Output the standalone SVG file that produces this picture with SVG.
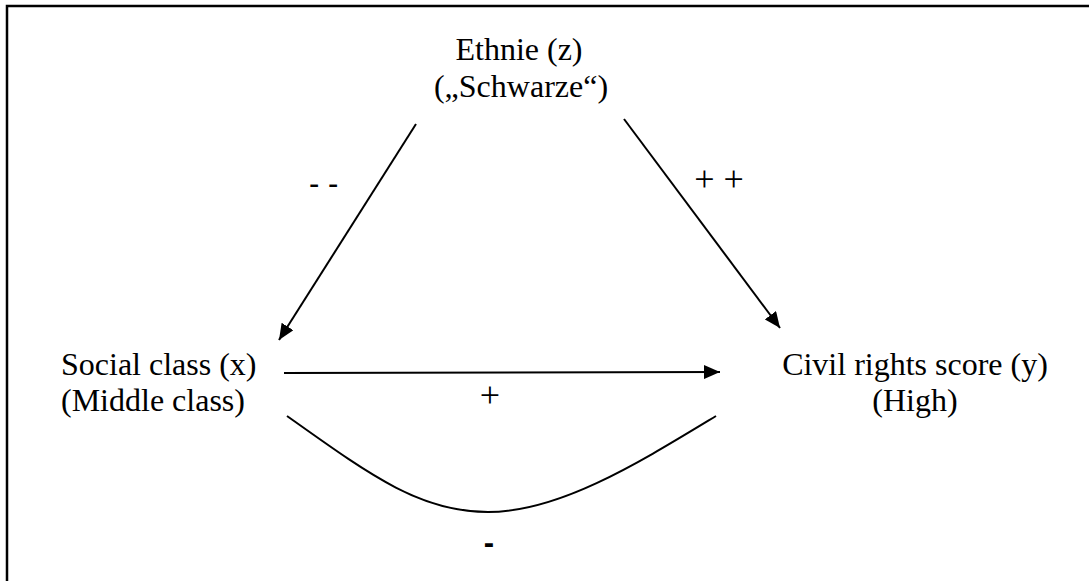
<svg xmlns="http://www.w3.org/2000/svg" width="1089" height="581" viewBox="0 0 1089 581">
<style>
.t{font-family:"Liberation Serif","Times New Roman",serif;font-size:32px;fill:#000}
.p{font-family:"Liberation Serif","Times New Roman",serif;font-size:36px;fill:#000}
.s{font-family:"Liberation Sans",Arial,sans-serif;font-size:31px;fill:#000}
.c{stroke:#000;stroke-width:2;fill:none}
</style>
<defs>
<marker id="a" viewBox="0 0 16 14" refX="16" refY="7" markerWidth="16" markerHeight="14" orient="auto" markerUnits="userSpaceOnUse">
<path d="M0,0 L16,7 L0,14 Z" fill="#000"/>
</marker>
</defs>
<rect x="0" y="0" width="1089" height="581" fill="#fff"/>
<path d="M7,581 V6 H1089" fill="none" stroke="#000" stroke-width="2.5"/>
<g id="node-z">
<text class="t" x="519" y="60" text-anchor="middle">Ethnie (z)</text>
<text class="t" x="521" y="97" text-anchor="middle">(„Schwarze“)</text>
</g>
<g id="node-x">
<text class="t" x="61" y="375">Social class (x)</text>
<text class="t" x="61" y="411">(Middle class)</text>
</g>
<g id="node-y">
<text class="t" x="915" y="375" text-anchor="middle">Civil rights score (y)</text>
<text class="t" x="915" y="411" text-anchor="middle">(High)</text>
</g>
<g id="connectors">
<line class="c" x1="416" y1="124" x2="279" y2="340" marker-end="url(#a)"/>
<line class="c" x1="624" y1="119" x2="780" y2="328" marker-end="url(#a)"/>
<line class="c" x1="284" y1="373" x2="720" y2="372" marker-end="url(#a)"/>
<path class="c" d="M287,416 C370,475 420,512 488,512 C560,512 640,462 716,416"/>
</g>
<g id="labels">
<text class="s" x="309" y="194">- -</text>
<text class="p" x="719" y="191" text-anchor="middle">+ +</text>
<text class="p" x="490" y="407" text-anchor="middle">+</text>
<text class="s" x="489" y="553" text-anchor="middle" font-weight="bold">-</text>
</g>
</svg>
